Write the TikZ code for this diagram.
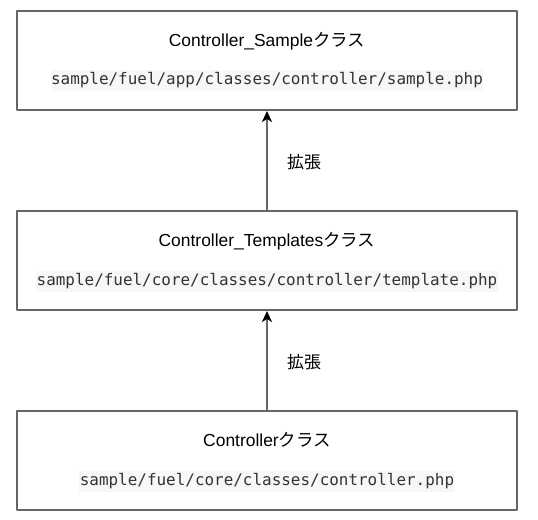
\documentclass[tikz,border=0pt]{standalone}
\usepackage{fontspec}
\setmainfont{Liberation Sans}
\newfontfamily\cjk{Noto Sans CJK JP}
\newfontfamily\codefont{DejaVu Sans Mono}
\usetikzlibrary{arrows.meta, positioning}
\definecolor{boxline}{HTML}{666666}
\definecolor{codebg}{HTML}{F7F7F7}
\definecolor{codetext}{HTML}{333333}

\begin{document}
\begin{tikzpicture}[x=1bp, y=-1bp, line join=round,
    >={Stealth[length=11bp, width=10bp, inset=3bp, color=black]},
    classbox/.style={draw=boxline, line width=2bp, minimum width=500bp, minimum height=99bp, inner sep=0pt},
    classname/.style={font=\fontsize{17.5}{20}\selectfont, inner sep=0pt, text height=13bp, text depth=4bp},
    filepath/.style={font=\codefont\fontsize{16}{19}\selectfont, text=codetext, fill=codebg, inner xsep=0.5bp, inner ysep=2.5bp, text height=12bp, text depth=4bp},
    extlabel/.style={font=\cjk\fontsize{17}{20}\selectfont, inner sep=0pt, anchor=west}]
  \useasboundingbox (0,0) rectangle (538,520);
  % class boxes
  \node[classbox] (sample) at (267,60.5) {};
  \node[classbox] (tmpl) at (267,260.5) {};
  \node[classbox] (base) at (267,460.5) {};
  % class names and files
  \node[classname] (sampleName) at (267,42) {Controller\_Sample{\cjk クラス}};
  \node[filepath] (sampleFile) at (267,81) {sample/fuel/app/classes/controller/sample.php};
  \node[classname] (tmplName) at (267,242) {Controller\_Templates{\cjk クラス}};
  \node[filepath] (tmplFile) at (267,281) {sample/fuel/core/classes/controller/template.php};
  \node[classname] (baseName) at (267,442) {Controller{\cjk クラス}};
  \node[filepath] (baseFile) at (267,481) {sample/fuel/core/classes/controller.php};
  % inheritance
  \draw[->, draw=boxline, line width=2bp] (tmpl) -- (sample);
  \draw[->, draw=boxline, line width=2bp] (base) -- (tmpl);
  \node[extlabel] (ext1) at (287,162) {拡張};
  \node[extlabel] (ext2) at (287,362) {拡張};
\end{tikzpicture}
\end{document}
